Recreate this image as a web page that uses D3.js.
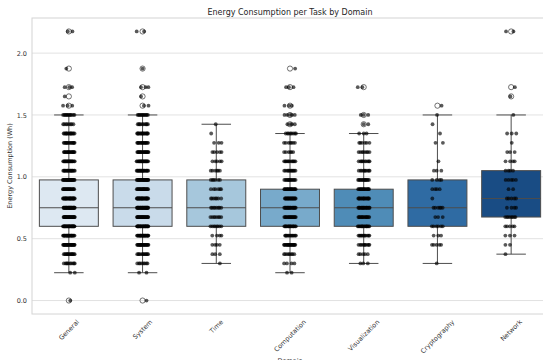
<!DOCTYPE html>
<html>
<head>
<meta charset="utf-8">
<script src="https://cdn.jsdelivr.net/npm/d3@7"></script>
<style>
  body { margin: 0; background: #fff; }
  text { font-family: "DejaVu Sans", sans-serif; }
</style>
</head>
<body>
<svg id="chart" width="543" height="360"></svg>
<script>
// ---- data -------------------------------------------------------------
const domains = ["General", "System", "Time", "Computation", "Visualization", "Cryptography", "Network"];
const boxColors = ["#dde8f2", "#c9dbea", "#a6c7dc", "#78aacb", "#4f8cb7", "#2f6ba3", "#194c84"];

// box statistics (Wh)
const q1          = [0.6,   0.6,   0.6,   0.6,  0.6,  0.6,   0.675];
const median      = [0.75,  0.75,  0.75,  0.75, 0.75, 0.75,  0.825];
const q3          = [0.975, 0.975, 0.975, 0.9,  0.9,  0.975, 1.05];
const whiskerLow  = [0.225, 0.225, 0.3,   0.225, 0.3, 0.3,   0.375];
const whiskerHigh = [1.5,   1.5,   1.425, 1.35, 1.35, 1.5,   1.5];
const fliers = [
  [0, 1.575, 1.65, 1.725, 1.875, 2.175],
  [0, 1.575, 1.65, 1.725, 1.875, 2.175],
  [],
  [1.425, 1.5, 1.575, 1.725, 1.875],
  [1.425, 1.5, 1.725],
  [1.575],
  [1.65, 1.725, 2.175]
];

// per-task energy levels (Wh) and how many tasks of each domain sit at each level
const levels = [0, 0.225, 0.3, 0.375, 0.45, 0.525, 0.6, 0.675, 0.75, 0.825, 0.9, 0.975,
                1.05, 1.125, 1.2, 1.275, 1.35, 1.425, 1.5, 1.575, 1.65, 1.725, 1.8, 1.875,
                1.95, 2.025, 2.1, 2.175];
const countsGeneral       = [1, 2, 10, 15, 25, 25, 30, 30, 30, 25, 20, 25, 18, 20, 18, 15, 15, 8, 12, 3, 1, 3, 0, 1, 0, 0, 0, 2];
const countsSystem        = [1, 2, 8, 12, 22, 25, 28, 28, 30, 25, 22, 25, 20, 20, 20, 16, 16, 10, 12, 2, 1, 3, 0, 1, 0, 0, 0, 2];
const countsTime          = [0, 0, 1, 3, 4, 4, 8, 8, 8, 7, 6, 6, 6, 5, 5, 3, 1, 1, 0, 0, 0, 0, 0, 0, 0, 0, 0, 0];
const countsComputation   = [0, 2, 4, 8, 20, 14, 18, 20, 20, 20, 18, 14, 12, 12, 6, 7, 8, 4, 5, 3, 0, 3, 0, 1, 0, 0, 0, 0];
const countsVisualization = [0, 0, 3, 5, 10, 12, 16, 16, 18, 16, 16, 14, 10, 10, 8, 6, 3, 2, 3, 0, 0, 2, 0, 0, 0, 0, 0, 0];
const countsCryptography  = [0, 0, 1, 0, 5, 3, 6, 3, 6, 1, 4, 4, 3, 1, 0, 2, 1, 1, 1, 1, 0, 0, 0, 0, 0, 0, 0, 0];
const countsNetwork       = [0, 0, 0, 1, 2, 3, 5, 8, 4, 5, 2, 5, 4, 4, 3, 1, 3, 0, 1, 0, 1, 1, 0, 0, 0, 0, 0, 2];
const counts = [countsGeneral, countsSystem, countsTime, countsComputation,
                countsVisualization, countsCryptography, countsNetwork];

const yTicks = [0.0, 0.5, 1.0, 1.5, 2.0];

// ---- layout -----------------------------------------------------------
const plotLeft = 32, plotRight = 548, plotTop = 18, plotBottom = 314;
const svg = d3.select("#chart");
const lineGray = "#4d4d4d";
const spineGray = "#d4d4d4";

const x = d3.scaleBand().domain(domains).range([plotLeft, plotRight])
  .paddingInner(0.2).paddingOuter(0.1);
const y = d3.scaleLinear().domain([-0.1088, 2.2838]).range([plotBottom, plotTop]);

// grid
svg.append("g").selectAll("line").data(yTicks).join("line")
  .attr("x1", plotLeft).attr("x2", plotRight)
  .attr("y1", d => y(d)).attr("y2", d => y(d))
  .attr("stroke", "#e2e2e2").attr("stroke-width", 1);

// spines
svg.append("rect")
  .attr("x", plotLeft).attr("y", plotTop)
  .attr("width", plotRight - plotLeft).attr("height", plotBottom - plotTop)
  .attr("fill", "none").attr("stroke", spineGray).attr("stroke-width", 1);

// y axis
const yAxis = d3.axisLeft(y).tickValues(yTicks).tickFormat(d3.format(".1f")).tickSize(0).tickPadding(5);
const gy = svg.append("g").attr("transform", `translate(${plotLeft},0)`).call(yAxis);
gy.select(".domain").remove();
gy.selectAll("text").attr("font-size", 6.5).attr("fill", "#333");

// x axis with rotated labels centred on their ticks
const xAxis = d3.axisBottom(x).tickSize(0).tickPadding(0);
const gx = svg.append("g").attr("transform", `translate(0,${plotBottom})`).call(xAxis);
gx.select(".domain").remove();
gx.selectAll(".tick text")
  .attr("font-size", 6.5).attr("fill", "#333")
  .attr("text-anchor", "middle").attr("dy", "0.35em").attr("y", 0)
  .each(function () {
    const L = this.getComputedTextLength();
    const h = 6.5;
    const cy = 4.5 + (L + h) * Math.SQRT1_2 / 2;
    d3.select(this).attr("transform", `translate(0,${cy}) rotate(-45)`);
  });

// axis titles
svg.append("text").attr("x", (plotLeft + plotRight) / 2).attr("y", 363)
  .attr("text-anchor", "middle").attr("font-size", 6.5).attr("fill", "#333").text("Domain");
svg.append("text")
  .attr("transform", `translate(12,${(plotTop + plotBottom) / 2}) rotate(-90)`)
  .attr("text-anchor", "middle").attr("font-size", 6.5).attr("fill", "#333")
  .text("Energy Consumption (Wh)");

// title
svg.append("text").attr("x", (plotLeft + plotRight) / 2).attr("y", 15)
  .attr("text-anchor", "middle").attr("font-size", 8).attr("fill", "#262626")
  .text("Energy Consumption per Task by Domain");

// ---- boxes ------------------------------------------------------------
const bw = x.bandwidth();
const boxes = svg.append("g");
domains.forEach((d, i) => {
  const cx = x(d) + bw / 2;
  const g = boxes.append("g");
  // whiskers
  g.append("line").attr("x1", cx).attr("x2", cx)
    .attr("y1", y(q3[i])).attr("y2", y(whiskerHigh[i]))
    .attr("stroke", lineGray).attr("stroke-width", 1);
  g.append("line").attr("x1", cx).attr("x2", cx)
    .attr("y1", y(q1[i])).attr("y2", y(whiskerLow[i]))
    .attr("stroke", lineGray).attr("stroke-width", 1);
  // caps
  [whiskerLow[i], whiskerHigh[i]].forEach(v => {
    g.append("line").attr("x1", cx - bw / 4).attr("x2", cx + bw / 4)
      .attr("y1", y(v)).attr("y2", y(v))
      .attr("stroke", lineGray).attr("stroke-width", 1);
  });
  // box
  g.append("rect").attr("x", x(d)).attr("width", bw)
    .attr("y", y(q3[i])).attr("height", y(q1[i]) - y(q3[i]))
    .attr("fill", boxColors[i]).attr("stroke", lineGray).attr("stroke-width", 1);
  // median
  g.append("line").attr("x1", x(d)).attr("x2", x(d) + bw)
    .attr("y1", y(median[i])).attr("y2", y(median[i]))
    .attr("stroke", lineGray).attr("stroke-width", 1);
  // outliers
  g.selectAll("circle").data(fliers[i]).join("circle")
    .attr("cx", cx).attr("cy", v => y(v)).attr("r", 2.6)
    .attr("fill", "none").attr("stroke", lineGray).attr("stroke-width", 0.8);
});

// ---- strip of individual tasks ---------------------------------------
const jitter = 6;
const pts = [];
domains.forEach((d, i) => {
  const cx = x(d) + bw / 2;
  counts[i].forEach((n, li) => {
    for (let k = 0; k < n; k++) {
      const u = ((k + 1) * 0.6180339887 + li * 0.377 + i * 0.213) % 1;
      pts.push({ x: cx + (u - 0.5) * 2 * jitter, v: levels[li] });
    }
  });
});
svg.append("g").selectAll("circle").data(pts).join("circle")
  .attr("cx", p => p.x).attr("cy", p => y(p.v)).attr("r", 1.9)
  .attr("fill", "#000").attr("fill-opacity", 0.65);
</script>
</body>
</html>
